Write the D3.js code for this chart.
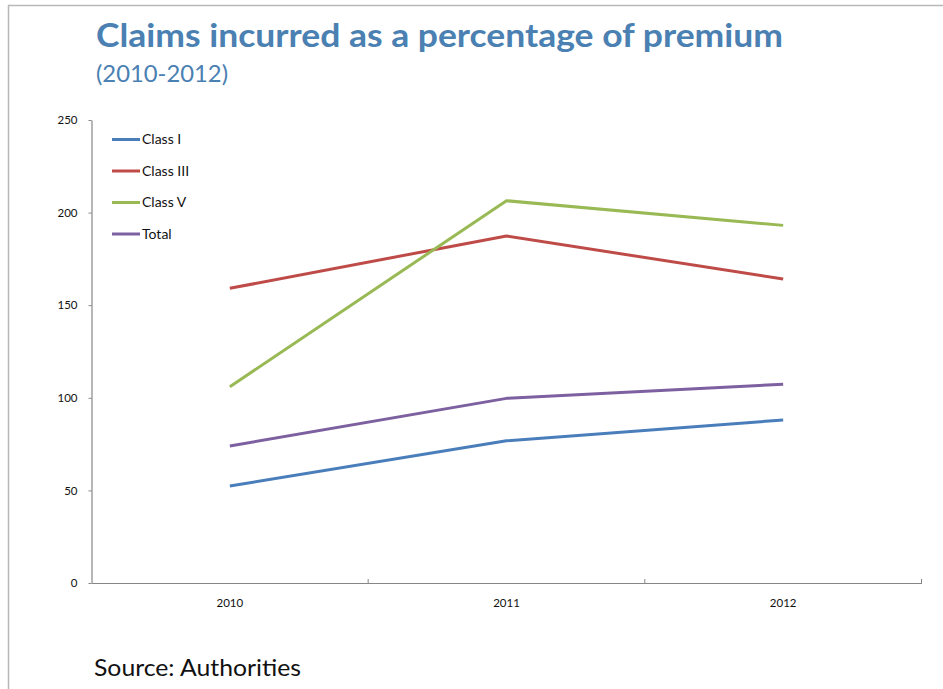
<!DOCTYPE html>
<html>
<head>
<meta charset="utf-8">
<script src="https://cdn.jsdelivr.net/npm/d3@7"></script>
<style>
  html, body { margin: 0; padding: 0; background: #fff; }
  svg { display: block; }
</style>
</head>
<body>
<svg id="chart" width="943" height="689"></svg>
<script>
// Claims incurred as % of premium, by class of business
const years = ["2010", "2011", "2012"];
const seriesNames = ["Class I", "Class III", "Class V", "Total"];
const classI = [52.4, 76.8, 88.0];
const classIII = [159.1, 187.4, 164.1];
const classV = [106.0, 206.4, 193.1];
const total = [74.0, 99.7, 107.3];
const yTicks = [0, 50, 100, 150, 200, 250];
const colors = ["#4a7ebb", "#be4b48", "#98b954", "#7d60a0"];

const seriesValues = [classI, classIII, classV, total];
const series = seriesNames.map((name, i) => ({ name, values: seriesValues[i], color: colors[i] }));

const svg = d3.select("#chart");
const font = "Lato, 'Open Sans', sans-serif";

// frame lines
svg.append("line").attr("x1", 8).attr("x2", 943).attr("y1", 5.5).attr("y2", 5.5)
  .attr("stroke", "#b8b8b8").attr("stroke-width", 1.5);
svg.append("line").attr("x1", 8.5).attr("x2", 8.5).attr("y1", 5).attr("y2", 689)
  .attr("stroke", "#b8b8b8").attr("stroke-width", 1.5);

// titles
const titleColor = "#4a80b2";
svg.append("text").attr("x", 96).attr("y", 47)
  .attr("font-family", font).attr("font-weight", "bold").attr("font-size", 33)
  .attr("fill", titleColor).attr("textLength", 687).attr("lengthAdjust", "spacingAndGlyphs")
  .text("Claims incurred as a percentage of premium");
svg.append("text").attr("x", 96).attr("y", 82)
  .attr("font-family", font).attr("font-size", 23)
  .attr("fill", titleColor).attr("textLength", 132).attr("lengthAdjust", "spacingAndGlyphs")
  .text("(2010-2012)");

// scales
const x = d3.scaleBand().domain(years).range([91.5, 921.5]);
const y = d3.scaleLinear().domain([0, 250]).range([583, 120]);

const axisColor = "#868686";

// y axis
const yAxis = svg.append("g").attr("transform", "translate(91.5,0)")
  .call(d3.axisLeft(y).tickValues(yTicks).tickSize(3).tickPadding(11).tickSizeOuter(0));
yAxis.select(".domain").attr("stroke", axisColor).attr("stroke-width", 1.2);
yAxis.selectAll(".tick line").attr("stroke", axisColor);
yAxis.selectAll(".tick text").attr("font-family", font).attr("font-size", 11.5).attr("fill", "#111");

// x axis with tick marks at category boundaries
const xAxis = svg.append("g").attr("transform", "translate(0,583)")
  .call(d3.axisBottom(x).tickSize(0).tickPadding(16).tickSizeOuter(0));
xAxis.select(".domain").attr("stroke", axisColor).attr("stroke-width", 1.2);
xAxis.selectAll(".tick text").attr("font-family", font).attr("font-size", 11.5).attr("fill", "#111");
const bounds = years.map(yr => x(yr) + x.bandwidth());
xAxis.selectAll(".boundary").data(bounds).enter().append("line")
  .attr("x1", d => d).attr("x2", d => d).attr("y1", 0).attr("y2", -4)
  .attr("stroke", axisColor).attr("stroke-width", 1);

// lines
const line = d3.line()
  .x((d, i) => x(years[i]) + x.bandwidth() / 2)
  .y(d => y(d));
svg.append("g").selectAll("path").data(series).enter().append("path")
  .attr("d", d => line(d.values))
  .attr("fill", "none")
  .attr("stroke", d => d.color)
  .attr("stroke-width", 3)
  .attr("stroke-linejoin", "round");

// legend
const legend = svg.append("g").selectAll("g").data(series).enter().append("g")
  .attr("transform", (d, i) => `translate(112,${139.5 + i * 31.5})`);
legend.append("line").attr("x1", 0).attr("x2", 28).attr("y1", 0).attr("y2", 0)
  .attr("stroke", d => d.color).attr("stroke-width", 3);
legend.append("text").attr("x", 30).attr("y", 0).attr("dy", "0.35em")
  .attr("font-family", font).attr("font-size", 14).attr("fill", "#111")
  .text(d => d.name);

// source note
svg.append("text").attr("x", 94).attr("y", 676)
  .attr("font-family", font).attr("font-size", 24).attr("fill", "#111")
  .attr("textLength", 207).attr("lengthAdjust", "spacingAndGlyphs")
  .text("Source: Authorities");
</script>
</body>
</html>
